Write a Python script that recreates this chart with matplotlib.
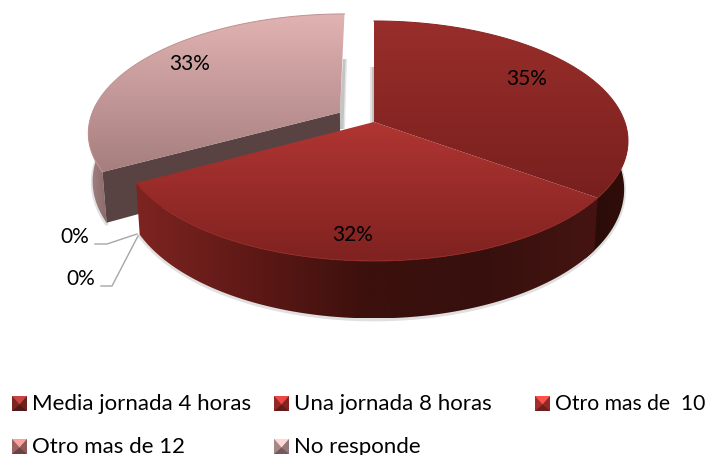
import numpy as np
import matplotlib
matplotlib.use('Agg')
import matplotlib.pyplot as plt
from matplotlib.patches import Polygon

categories = ['Media jornada 4 horas', 'Una jornada 8 horas', 'Otro mas de  10', 'Otro mas de 12', 'No responde']
values = [35, 32, 0, 0, 33]
label_xy = [(527, 79), (353, 235), (75, 237), (81, 279), (190, 64)]

# colores: parte alta / parte baja de cada tajada
top_colors = [('#992e2b', '#78201e'), ('#b03532', '#7f2220'), None, None, ('#e2b3b3', '#a67e7e')]
wall_colors = [['#2a0b08', '#300e0a'], ['#7e2421', '#5e1916', '#3c100d', '#37100d', '#451412'], None, None, ['#a58484', '#8a6a6a']]
legend_colors = ['#8a2a28', '#a52c2a', '#b8322f', '#b06e6c', '#bd9696']

plt.rcParams['font.family'] = ['Lato', 'DejaVu Sans']
fig = plt.figure(figsize=(7.1, 4.56), dpi=100)
ax = fig.add_axes([0, 0, 1, 1])
ax.set_xlim(0, 710)
ax.set_ylim(456, 0)
ax.axis('off')

K = 0.158
CX = 374


def project(x, y, apex_y, r, s):
    return CX + r * x / (1 + K * y), apex_y - s * y / (1 + K * y)


def upper(x, y):
    return project(x, y, 123, 250.8, 117)


def lower(x, y):
    return project(x, y, 170, 247, 125.8)


def arc(a0, a1, dx, dy, n=120):
    a = np.radians(np.linspace(a0, a1, n))
    return np.sin(a) + dx, np.cos(a) + dy


def hex_rgb(c):
    return np.array(matplotlib.colors.to_rgb(c))


def gradient(poly_xy, colors, vertical=True, zorder=2):
    poly_xy = np.array(poly_xy)
    x0, y0 = poly_xy.min(axis=0)
    x1, y1 = poly_xy.max(axis=0)
    stops = np.array([hex_rgb(c) for c in colors])
    t = np.linspace(0, 1, 256)
    ramp = np.stack([np.interp(t, np.linspace(0, 1, len(stops)), stops[:, i]) for i in range(3)], axis=-1)
    img = ramp[:, None, :] if vertical else ramp[None, :, :]
    im = ax.imshow(img, extent=(x0, x1, y1, y0), aspect='auto', zorder=zorder, interpolation='bilinear')
    patch = Polygon(poly_xy, closed=True, transform=ax.transData, fc='none', ec='none')
    ax.add_patch(patch)
    im.set_clip_path(patch)
    ax.set_xlim(0, 710)
    ax.set_ylim(456, 0)


def outer_wall(i, a0, a1, dx, dy, zorder):
    xs, ys = arc(a0, a1, dx, dy)
    ux, uy = upper(xs, ys)
    lx, ly = lower(xs, ys)
    # sombra suave bajo la pared
    ax.plot(lx, ly + 1.2, color='#e0e0e0', lw=2.5, zorder=1, solid_capstyle='round')
    poly = list(zip(ux, uy)) + list(zip(lx, ly))[::-1]
    gradient(poly, wall_colors[i], vertical=False, zorder=zorder)


def top_face(i, a0, a1, dx, dy, zorder):
    xs, ys = arc(a0, a1, dx, dy)
    ux, uy = upper(xs, ys)
    ax_, ay_ = upper(dx, dy)
    poly = [(ax_, ay_)] + list(zip(ux, uy))
    gradient(poly, top_colors[i], zorder=zorder)
    edge = matplotlib.colors.to_hex(np.clip(hex_rgb(top_colors[i][1]) * 1.15, 0, 1))
    ax.plot(ux, uy, color=edge, lw=0.7, zorder=zorder + 0.1)


angles = np.cumsum([0] + values) * 3.6 * 100 / sum(values)

# la tajada separada (No responde)
mid = np.radians((angles[4] + angles[5]) / 2)
ex, ey = 0.16 * np.sin(mid), 0.16 * np.cos(mid)

# sombra suave detras de los cortes
for w, c in [(4, '#e4e4e4'), (2.5, '#c4c4c4')]:
    ax.fill([343, 343 + w, 341 + w, 339], [60, 60, 130, 130], color=c, lw=0, zorder=1)
    ax.fill([374 - w, 374, 374, 374 - w], [68, 68, 124, 124], color=c, lw=0, zorder=1)

# pared exterior de 33 %: solo la parte visible a la izquierda
outer_wall(4, angles[4], 275, ex, ey, 2)

# cara interior de 33 %
ca = np.radians(angles[4])
corner = (np.sin(ca) + ex, np.cos(ca) + ey)
face = [upper(*corner), upper(ex, ey), lower(ex, ey), lower(*corner)]
ax.add_patch(Polygon(face, closed=True, fc='#584342', ec='none', zorder=3))
top_face(4, angles[4], angles[5], ex, ey, 4)

# 35 % y 32 %: la pared de 35 % sigue un poco bajo la de 32 %
outer_wall(0, 90, angles[1] + 4, 0, 0, 5)
top_face(0, angles[0], angles[1], 0, 0, 6)
outer_wall(1, angles[1], angles[2], 0, 0, 7)
top_face(1, angles[1], angles[2], 0, 0, 8)

# etiquetas
for v, (lx, ly) in zip(values, label_xy):
    ax.text(lx, ly, f'{v}%', ha='center', va='center', fontsize=15, color='black', zorder=10)

# lineas guia de las etiquetas en 0 %
ax.plot([95, 107, 137], [245, 245, 235], color='#a6a6a6', lw=1, zorder=9)
ax.plot([101, 112, 138], [287, 287, 237], color='#a6a6a6', lw=1, zorder=9)

# leyenda
legend_xy = [(12, 397), (274, 397), (535, 397), (12, 440), (274, 440)]
size = 15
for name, c, (lx, ly) in zip(categories, legend_colors, legend_xy):
    base = hex_rgb(c)
    r, b = lx + size, ly + size
    mx, my = lx + size / 2, ly + size / 2 + 1
    ax.add_patch(Polygon([(lx, ly), (r, ly), (r, b), (lx, b)], fc=base * 0.6, ec='none', zorder=5))
    ax.add_patch(Polygon([(lx, ly), (lx, b), (mx, my)], fc=base * 0.9, ec='none', zorder=6))
    ax.add_patch(Polygon([(r, ly), (r, b), (mx, my)], fc=base * 0.8, ec='none', zorder=6))
    ax.add_patch(Polygon([(lx, ly), (r, ly), (mx, my)], fc=np.clip(base * 1.35 + 0.05, 0, 1), ec='none', zorder=6))
    # el doble espacio de esta entrada no cabe a 16 pt
    fs = 15.2 if name == 'Otro mas de  10' else 16
    ax.text(lx + 20, ly + size / 2, name, ha='left', va='center', fontsize=fs, color='black', zorder=10)

fig.savefig('out.png', dpi=100)
